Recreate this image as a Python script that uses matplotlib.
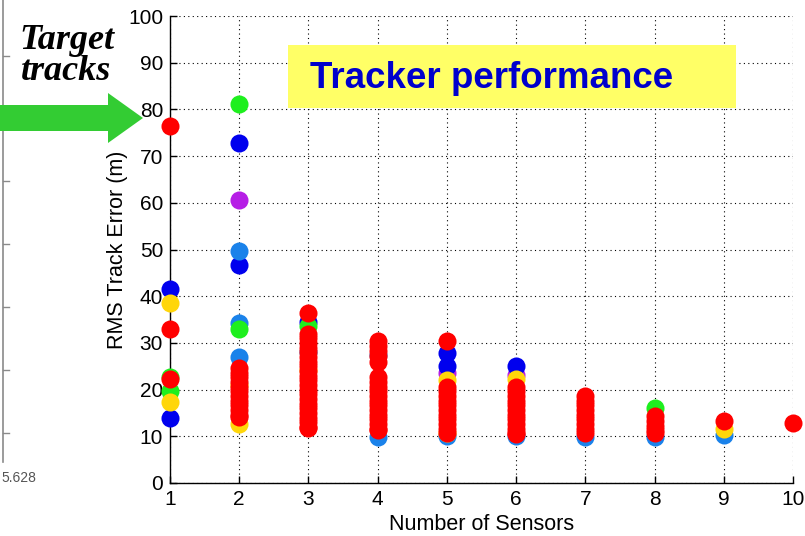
import matplotlib
matplotlib.use("Agg")
import matplotlib.pyplot as plt
from matplotlib.patches import Rectangle, Polygon
from matplotlib.lines import Line2D

# ---------------- data ----------------
purple_x = [2, 5, 6]
purple_y = [60.6, 23.6, 23.2]

blue_x = [1, 1, 2, 2, 3, 5, 5, 6]
blue_y = [41.5, 14.0, 72.7, 46.7, 34.4, 27.9, 25.1, 25.1]

lightblue_x = [2, 2, 2, 3, 4, 4, 5, 6, 7, 8, 9]
lightblue_y = [49.7, 34.2, 26.9, 28.1, 27.4, 9.8, 10.0, 10.0, 9.8, 9.8, 10.2]

green_x = [1, 1, 2, 2, 3, 8]
green_y = [22.8, 19.8, 81.2, 32.9, 33.6, 16.0]

yellow_x = [1, 1, 2, 2, 3, 5, 5, 6, 9]
yellow_y = [38.5, 17.3, 21.0, 12.6, 24.2, 22.0, 10.6, 22.2, 11.5]

red_n1 = [76.4, 32.9, 22.2]
red_n2 = [24.6, 23.6, 22.6, 21.6, 20.6, 19.6, 18.6, 17.6, 16.6, 15.6, 14.6, 14.2]
red_n3 = [36.5, 32.0, 31.0, 30.0, 29.0, 28.0, 27.0, 26.0, 25.0, 24.0,
          23.0, 22.0, 21.0, 20.0, 19.0, 18.0, 17.0, 16.0, 15.0, 14.0, 13.0, 12.0, 11.8]
red_n4 = [30.3, 29.3, 28.3, 27.2, 26.0, 22.8, 21.6, 20.6, 19.6, 18.6, 17.6, 16.6,
          15.6, 14.6, 13.6, 12.6, 11.6, 11.3]
red_n5 = [30.5, 20.6, 19.6, 18.6, 17.6, 16.6, 15.6, 14.6, 13.6, 12.6, 11.6, 10.8]
red_n6 = [20.6, 19.6, 18.6, 17.6, 16.6, 15.6, 14.6, 13.6, 12.6, 11.6, 10.6, 10.4]
red_n7 = [18.6, 17.6, 16.6, 15.6, 14.6, 13.6, 12.6, 11.6, 10.6]
red_n8 = [14.3, 13.3, 12.3, 11.3, 10.8]
red_n9 = [13.3]
red_n10 = [12.9]
red_groups = [red_n1, red_n2, red_n3, red_n4, red_n5, red_n6, red_n7, red_n8, red_n9, red_n10]

x_ticks = [1, 2, 3, 4, 5, 6, 7, 8, 9, 10]
y_ticks = [0, 10, 20, 30, 40, 50, 60, 70, 80, 90, 100]

title_text = "Tracker performance"
x_label = "Number of Sensors"
y_label = "RMS Track Error (m)"
side_lines = ["Target", "tracks"]
remnant_label = "5.628"

red_x = []
red_y = []
for n, grp in zip(x_ticks, red_groups):
    red_x += [n] * len(grp)
    red_y += grp

# ---------------- figure ----------------
W, H = 805, 536
fig = plt.figure(figsize=(W / 100, H / 100), dpi=100)
fig.patch.set_facecolor("white")

def fx(px):
    return px / W

def fy(py):
    return 1 - py / H

ax = fig.add_axes([fx(170), fy(483), fx(793) - fx(170), fy(16) - fy(483)])
ax.set_xlim(1, 10)
ax.set_ylim(0, 100)

series = [
    (purple_x, purple_y, "#b61ee6"),
    (blue_x, blue_y, "#0000ee"),
    (lightblue_x, lightblue_y, "#1a82ea"),
    (green_x, green_y, "#1eef1e"),
    (yellow_x, yellow_y, "#ffd60a"),
    (red_x, red_y, "#ff0000"),
]
for i, (xs, ys, c) in enumerate(series):
    ax.plot(xs, ys, linestyle="none", marker="o", markersize=13,
            markerfacecolor=c, markeredgecolor="none",
            clip_on=False, zorder=3 + i * 0.01)

ax.set_xticks(x_ticks)
ax.set_yticks(y_ticks)
ax.grid(True, linestyle=(0, (1, 3)), color="black", linewidth=0.8)
ax.set_axisbelow(True)
for s in ["top", "right"]:
    ax.spines[s].set_visible(False)
for s in ["left", "bottom"]:
    ax.spines[s].set_linewidth(1.0)
ax.tick_params(direction="in", length=5, width=1, labelsize=15, pad=5)
for lab in ax.get_xticklabels() + ax.get_yticklabels():
    lab.set_fontfamily("Liberation Sans")
ax.set_xlabel(x_label, fontsize=15.5, fontfamily="Liberation Sans", labelpad=4)
ax.set_ylabel(y_label, fontsize=15.5, fontfamily="Liberation Sans", labelpad=0)

# title box
fig.patches.append(Rectangle((fx(288), fy(108)), fx(736) - fx(288), fy(45) - fy(108),
                             transform=fig.transFigure, facecolor="#ffff66",
                             edgecolor="none", zorder=5))
fig.text(fx(310), fy(78), title_text, fontsize=26.5, fontweight="bold",
         color="#0000cc", fontfamily="Liberation Sans", va="center", ha="left", zorder=6)

# green arrow
arrow_pts = [(0, 105), (108, 105), (108, 93), (143, 118), (108, 143), (108, 131), (0, 131)]
fig.patches.append(Polygon([(fx(px), fy(py)) for px, py in arrow_pts], closed=True,
                           transform=fig.transFigure, facecolor="#33cc33",
                           edgecolor="none", zorder=5))

# "Target tracks"
fig.text(fx(67), fy(49), side_lines[0], fontsize=26, fontweight="bold", fontstyle="italic",
         fontfamily="Liberation Serif", ha="center", va="baseline")
fig.text(fx(66), fy(80), side_lines[1], fontsize=26, fontweight="bold", fontstyle="italic",
         fontfamily="Liberation Serif", ha="center", va="baseline")

# remnant of neighbouring plot on the left edge
fig.lines.append(Line2D([fx(3), fx(3)], [fy(0), fy(462)], transform=fig.transFigure,
                        color="#8a8a8a", linewidth=1.2))
for ty in [56, 119, 181, 244, 307, 370, 433]:
    fig.lines.append(Line2D([fx(3), fx(9)], [fy(ty), fy(ty)], transform=fig.transFigure,
                            color="#8a8a8a", linewidth=1.0))
fig.text(fx(1), fy(478), remnant_label, fontsize=10, color="#555555",
         fontfamily="Liberation Sans", ha="left", va="center")

fig.savefig("out.png", dpi=100)
